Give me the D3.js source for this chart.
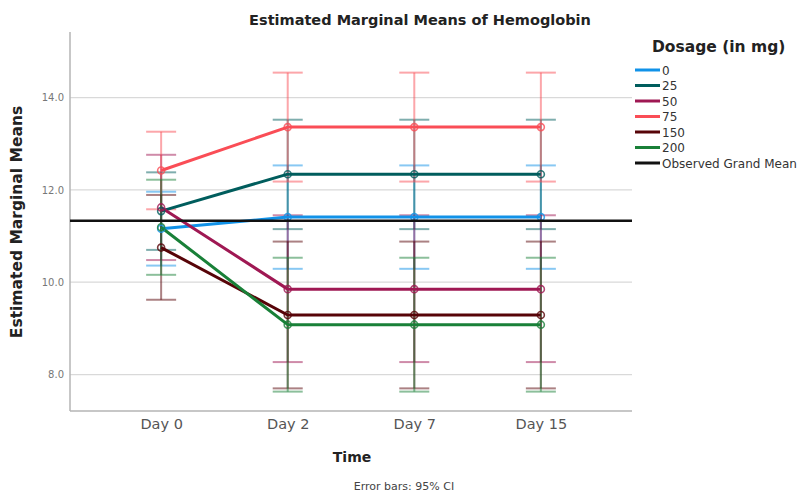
<!DOCTYPE html>
<html><head><meta charset="utf-8">
<script src="https://cdn.jsdelivr.net/npm/d3@7"></script>
<style>
body{margin:0;background:#fff;}
text{font-family:"DejaVu Sans",Verdana,sans-serif;}
</style></head>
<body><svg id="c" width="806" height="493"></svg>
<script>
const days = ["Day 0","Day 2","Day 7","Day 15"];
const dosages = ["0","25","50","75","150","200"];
const colors = ["#1192e8","#005d5d","#9f1853","#fa4d56","#570408","#198038"];
const means = [
  [11.16, 11.41, 11.41, 11.41],
  [11.54, 12.34, 12.34, 12.34],
  [11.62, 9.85, 9.85, 9.85],
  [12.42, 13.36, 13.36, 13.36],
  [10.75, 9.29, 9.29, 9.29],
  [11.19, 9.08, 9.08, 9.08]
];
const lower = [
  [10.36, 10.29, 10.29, 10.29],
  [10.70, 11.15, 11.15, 11.15],
  [10.48, 8.27, 8.27, 8.27],
  [11.58, 12.18, 12.18, 12.18],
  [9.62, 7.70, 7.70, 7.70],
  [10.16, 7.63, 7.63, 7.63]
];
const upper = [
  [11.96, 12.53, 12.53, 12.53],
  [12.38, 13.52, 13.52, 13.52],
  [12.76, 11.45, 11.45, 11.45],
  [13.26, 14.54, 14.54, 14.54],
  [11.89, 10.88, 10.88, 10.88],
  [12.22, 10.53, 10.53, 10.53]
];
const grandMean = 11.33;
const yTicks = [8, 10, 12, 14];

const svg = d3.select("#c");
const L = 70, R = 632, T = 32, B = 411;
const x = d3.scalePoint().domain(days).range([L, R]).padding(0.72);
const y = d3.scaleLinear().domain([7.21, 15.42]).range([B, T]);

// gridlines
svg.append("g").selectAll("line").data(yTicks).join("line")
  .attr("x1", L).attr("x2", R).attr("y1", d => y(d)).attr("y2", d => y(d))
  .attr("stroke", "#d9d9d9").attr("stroke-width", 1.3);

// axes
const ya = svg.append("g").attr("transform", `translate(${L},0)`)
  .call(d3.axisLeft(y).tickValues(yTicks).tickFormat(d3.format(".1f")).tickSize(0).tickPadding(6));
ya.select(".domain").remove();
ya.selectAll("text").attr("fill", "#777").attr("font-size", 10).attr("font-family", "DejaVu Sans");
const xa = svg.append("g").attr("transform", `translate(0,${B})`)
  .call(d3.axisBottom(x).tickSize(0).tickPadding(8));
xa.select(".domain").remove();
xa.selectAll("text").attr("fill", "#555").attr("font-size", 14.5).attr("font-family", "DejaVu Sans");

svg.append("line").attr("x1", L).attr("x2", L).attr("y1", T).attr("y2", B)
  .attr("stroke", "#b5b5b5").attr("stroke-width", 1.5);
svg.append("line").attr("x1", L).attr("x2", R).attr("y1", B).attr("y2", B)
  .attr("stroke", "#b5b5b5").attr("stroke-width", 1.5);

// error bars
const capW = 15;
dosages.forEach((d, i) => {
  const g = svg.append("g").attr("stroke", colors[i]).attr("stroke-opacity", 0.5).attr("stroke-width", 2);
  days.forEach((day, j) => {
    const cx = x(day);
    g.append("line").attr("x1", cx).attr("x2", cx).attr("y1", y(lower[i][j])).attr("y2", y(upper[i][j]));
    g.append("line").attr("x1", cx - capW).attr("x2", cx + capW).attr("y1", y(lower[i][j])).attr("y2", y(lower[i][j]));
    g.append("line").attr("x1", cx - capW).attr("x2", cx + capW).attr("y1", y(upper[i][j])).attr("y2", y(upper[i][j]));
  });
});

// lines
const line = d3.line().x((v, j) => x(days[j])).y(v => y(v));
dosages.forEach((d, i) => {
  svg.append("path").attr("d", line(means[i])).attr("fill", "none")
    .attr("stroke", colors[i]).attr("stroke-width", 3).attr("stroke-linejoin", "round");
});
dosages.forEach((d, i) => {
  svg.append("g").selectAll("circle").data(means[i]).join("circle")
    .attr("cx", (v, j) => x(days[j])).attr("cy", v => y(v)).attr("r", 3.5)
    .attr("fill", "none").attr("stroke", colors[i]).attr("stroke-width", 1.6).attr("stroke-opacity", 0.8);
});

// grand mean
svg.append("line").attr("x1", L).attr("x2", R).attr("y1", y(grandMean)).attr("y2", y(grandMean))
  .attr("stroke", "#111").attr("stroke-width", 2.5);

// titles
svg.append("text").attr("x", 420).attr("y", 25).attr("text-anchor", "middle")
  .attr("font-size", 14.5).attr("font-weight", "bold").attr("fill", "#222")
  .text("Estimated Marginal Means of Hemoglobin");
svg.append("text").attr("transform", "translate(22,222) rotate(-90)").attr("text-anchor", "middle")
  .attr("font-size", 15.5).attr("font-weight", "bold").attr("fill", "#222")
  .text("Estimated Marginal Means");
svg.append("text").attr("x", 352).attr("y", 462).attr("text-anchor", "middle")
  .attr("font-size", 14).attr("font-weight", "bold").attr("fill", "#222").text("Time");
svg.append("text").attr("x", 404).attr("y", 490).attr("text-anchor", "middle")
  .attr("font-size", 11).attr("fill", "#444").text("Error bars: 95% CI");

// legend
svg.append("text").attr("x", 652).attr("y", 52).attr("font-size", 15.5).attr("font-weight", "bold")
  .attr("fill", "#222").text("Dosage (in mg)");
const legItems = dosages.map((d, i) => ({label: d, color: colors[i]}))
  .concat([{label: "Observed Grand Mean", color: "#111"}]);
const lg = svg.append("g").selectAll("g").data(legItems).join("g")
  .attr("transform", (d, i) => `translate(635,${70 + i * 15.5})`);
lg.append("line").attr("x1", 0).attr("x2", 25).attr("stroke", d => d.color).attr("stroke-width", 3);
lg.append("text").attr("x", 27).attr("y", 4.5).attr("font-size", 12).attr("fill", "#333").text(d => d.label);
</script></body></html>
